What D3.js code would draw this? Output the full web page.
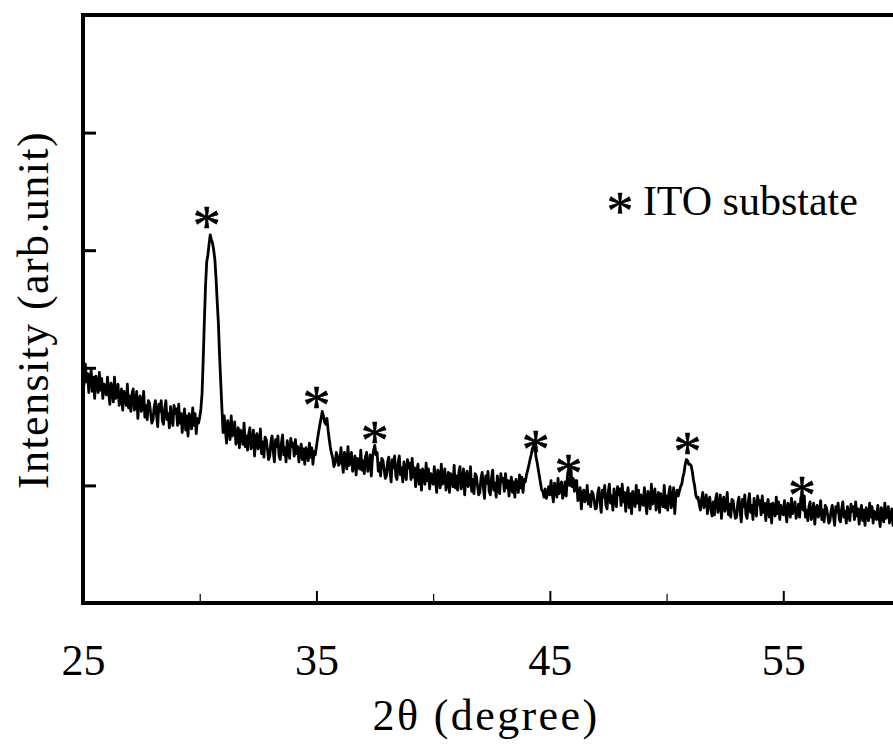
<!DOCTYPE html>
<html>
<head>
<meta charset="utf-8">
<script src="https://cdn.jsdelivr.net/npm/d3@7"></script>
<style>
body { margin: 0; background: #fff; }
text { font-family: "Liberation Serif", "Times New Roman", serif; fill: #000; }
</style>
</head>
<body>
<div id="container"></div>
<script>
// XRD scan, 25 -> 60 deg, step 0.05 (one row = one degree)
var angleStart = 25,
    angleStep = 0.05;

var intensity = [
  200,186,203,188,195,179,191,198,180,192,174,193,187,179,196,181,191,174,186,181,
  177,192,179,169,187,183,171,192,174,179,186,168,173,182,164,180,176,168,186,166,
  176,163,178,182,164,168,180,157,173,176,163,166,180,158,168,156,172,170,161,153,
  156,167,172,160,150,169,163,172,155,152,165,172,156,161,149,167,157,151,168,161,
  165,151,169,153,161,145,158,165,147,159,142,161,156,148,166,151,161,144,157,153,
  158,165,178,207,240,270,290,296,305,313,309,306,300,292,276,256,238,211,188,166,
  145,159,147,136,155,150,139,159,142,146,154,135,141,149,132,147,144,135,153,133,
  142,130,144,149,131,135,147,125,140,144,131,134,148,127,137,124,141,139,131,122,
  125,137,142,129,120,139,133,142,125,122,136,143,126,132,120,138,129,123,140,133,
  136,125,139,127,133,120,130,135,122,131,118,132,128,121,136,124,132,118,129,126,
  133,140,146,152,157,163,159,154,152,157,147,139,132,127,123,116,119,128,125,117,
  119,132,120,111,128,125,114,133,117,122,128,112,117,125,109,123,121,114,130,113,
  121,110,124,128,112,116,126,108,124,130,134,126,128,112,119,108,123,121,114,106,
  108,120,124,112,103,122,115,125,108,105,119,125,109,115,103,120,111,105,122,115,
  119,105,123,107,115,99,112,118,101,113,96,114,109,101,119,104,114,97,110,105,
  101,116,104,94,113,109,98,118,101,106,114,96,102,111,94,110,107,99,117,98,
  108,96,111,116,97,102,114,92,108,112,99,102,116,95,105,93,110,108,100,92,
  94,106,111,99,89,108,102,112,95,92,106,113,96,102,90,108,99,93,110,103,
  106,95,110,98,104,91,102,107,94,103,90,105,101,94,109,98,107,94,105,103,
  109,113,117,122,126,131,134,138,125,120,114,108,102,96,95,90,97,89,93,99,
  92,104,94,86,102,98,90,106,93,97,103,89,94,103,91,107,106,100,116,99,
  106,95,104,104,87,89,98,80,93,96,86,89,100,84,92,82,95,93,87,80,
  81,93,98,86,77,96,90,100,83,80,94,101,85,91,79,97,88,82,99,92,
  97,83,101,86,94,78,91,98,81,93,76,95,90,82,100,85,96,79,92,87,
  83,98,86,76,95,91,80,101,84,89,97,79,85,94,77,93,90,82,100,81,
  91,79,94,99,81,86,98,76,92,96,91,95,99,101,107,111,118,122,121,118,
  118,117,112,105,100,92,89,90,84,79,88,94,81,85,92,76,87,90,79,74,
  86,75,88,93,77,81,92,72,87,90,78,82,94,75,84,73,88,87,79,72,
  73,85,90,78,69,88,82,92,75,72,86,93,77,83,71,89,80,74,91,84,
  87,75,91,77,85,70,82,88,73,84,68,85,81,74,90,76,86,71,83,78,
  75,87,77,69,85,81,73,89,76,80,86,72,77,84,73,89,88,79,91,73,
  79,70,82,86,71,75,85,67,80,83,73,76,87,71,79,69,83,81,75,68,
  70,79,83,74,66,82,77,85,71,69,80,86,73,78,68,82,75,70,84,78,
  82,71,86,74,80,67,78,83,70,79,66,81,77,70,85,73,82,68,78,74,
  71,83,73,65,81,77,69,85,72,76,82,68,73,80,66,79,77,70,85,69,
  76
];

// ITO reflections marked with *
var starAngle  = [30.3, 35.0, 37.5, 44.4, 45.8, 50.9, 55.8],
    starHeight = [328, 175, 145, 138, 117, 136, 99];

var xTicks = [25, 35, 45, 55],
    xMinorTicks = [30, 40, 50],
    yTicks = [100, 200, 300, 400];

var width = 893,
    height = 755,
    margin = { left: 83, top: 15, right: -7, bottom: 152 },
    g_width = width - margin.left - margin.right,
    g_height = height - margin.top - margin.bottom;

var svg = d3.select("#container")
            .append("svg")
            .attr("width", width)
            .attr("height", height);

var g = svg.append("g")
           .attr("transform", "translate(" + margin.left + "," + margin.top + ")");

var scale_x = d3.scaleLinear()
                .domain([25, 60])
                .range([0, g_width]);

var scale_y = d3.scaleLinear()
                .domain([0, 500])
                .range([g_height, 0]);

var line_generator = d3.line()
                       .x(function(d, i) { return scale_x(angleStart + i * angleStep); })
                       .y(function(d) { return scale_y(d); });

g.append("path")
 .attr("d", line_generator(intensity))
 .attr("fill", "none")
 .attr("stroke", "#000")
 .attr("stroke-width", 2.8)
 .attr("stroke-linejoin", "round");

// axes (ticks point inward)
var x_axis = d3.axisBottom(scale_x)
               .tickValues(xTicks)
               .tickSize(-12)
               .tickSizeOuter(0)
               .tickFormat(d3.format("d"));

var x_minor = d3.axisBottom(scale_x)
                .tickValues(xMinorTicks)
                .tickSize(-9)
                .tickSizeOuter(0)
                .tickFormat("");

var y_axis = d3.axisLeft(scale_y)
               .tickValues(yTicks)
               .tickSize(-13)
               .tickSizeOuter(0)
               .tickFormat("");

var gx = g.append("g")
          .attr("transform", "translate(0," + g_height + ")")
          .call(x_axis);
gx.select(".domain").remove();
gx.selectAll("line").attr("stroke-width", 2);
gx.selectAll("text")
  .attr("y", 72)
  .attr("dy", 0)
  .attr("font-size", 44);

var gm = g.append("g")
          .attr("transform", "translate(0," + g_height + ")")
          .call(x_minor);
gm.select(".domain").remove();
gm.selectAll("line").attr("stroke-width", 1.2);

var gy = g.append("g").call(y_axis);
gy.select(".domain").remove();
gy.selectAll("line").attr("stroke-width", 3);

// frame
g.append("rect")
 .attr("x", 0)
 .attr("y", 0)
 .attr("width", g_width)
 .attr("height", g_height)
 .attr("fill", "none")
 .attr("stroke", "#000")
 .attr("stroke-width", 4);

// star markers
g.selectAll(".star")
 .data(starAngle)
 .enter()
 .append("text")
 .attr("class", "star")
 .attr("x", function(d) { return scale_x(d); })
 .attr("y", function(d, i) { return scale_y(starHeight[i]) + 28; })
 .attr("text-anchor", "middle")
 .attr("font-size", 56)
 .attr("stroke", "#000")
 .attr("stroke-width", 0.6)
 .text("*");

// legend
var lg = g.append("g")
          .attr("transform", "translate(" + scale_x(48) + ",200)");
lg.append("text")
  .attr("x", 0)
  .attr("y", 14)
  .attr("text-anchor", "middle")
  .attr("font-size", 54)
  .attr("stroke", "#000")
  .attr("stroke-width", 0.5)
  .text("*");
lg.append("text")
  .attr("x", 23)
  .attr("y", 0)
  .attr("font-size", 42)
  .text("ITO substate");

// axis titles
g.append("text")
 .attr("x", 486 - margin.left)
 .attr("y", 730 - margin.top)
 .attr("text-anchor", "middle")
 .attr("font-size", 44)
 .attr("letter-spacing", 2.4)
 .text("2\u03b8 (degree)");

g.append("text")
 .attr("transform", "translate(" + (48 - margin.left) + "," + (310 - margin.top) + ") rotate(-90)")
 .attr("text-anchor", "middle")
 .attr("font-size", 44)
 .attr("letter-spacing", 1.4)
 .text("Intensity (arb.unit)");
</script>
</body>
</html>
